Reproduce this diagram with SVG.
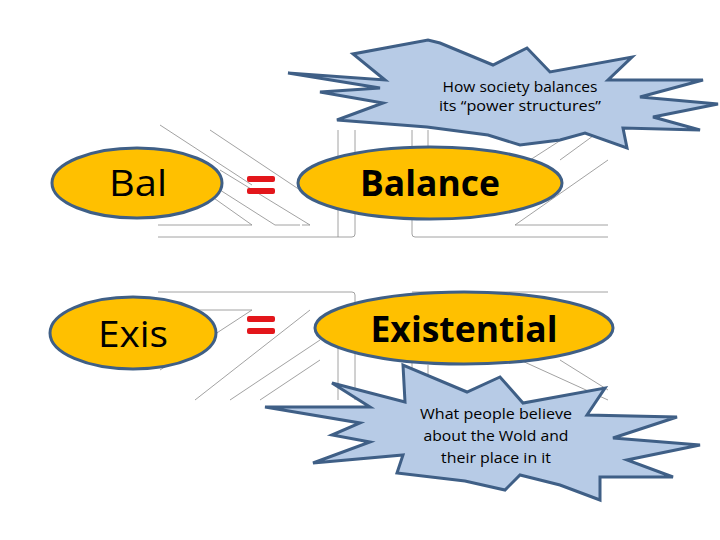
<svg xmlns="http://www.w3.org/2000/svg" width="720" height="540" viewBox="0 0 720 540">
<style>
.bg{stroke:#8a8a8a;stroke-width:0.8;fill:none}
.ell{fill:#ffc000;stroke:#3f5f86;stroke-width:3}
.big{font-family:"Open Sans","Liberation Sans",sans-serif;font-size:36px;fill:#000;text-anchor:middle}
.b{font-weight:bold}
.burst{fill:#b7cbe6;stroke:#3f5f86;stroke-width:3;stroke-linejoin:miter}
.small{font-family:"Open Sans","Liberation Sans",sans-serif;font-size:14px;fill:#000;text-anchor:middle}
.eq{fill:#e3161b}
</style>
<rect width="720" height="540" fill="#fff"/>
<g id="background" class="bg">
<path d="M158,237 H352 Q355,237 355,234 V130"/>
<path d="M338,130 V237"/>
<path d="M412,130 V234 Q412,237 415,237 H608"/>
<path d="M428,130 V215"/>
<path d="M158,225 H252 M252,225 L160,160 M160,125 L252,185 M210,130 L300,190 M275,225 L300,225 M275,225 L220,190 M302,225 L310,225 L220,170"/>
<path d="M515,225 H608 M515,225 L608,160 M560,160 L608,125 M530,160 L600,115"/>
<path d="M158,292 H352 Q355,292 355,295 V400"/>
<path d="M338,330 V400"/>
<path d="M412,292 H608 M428,365 V400 M412,360 V400"/>
<path d="M158,310 H252 M252,310 L160,370 M195,400 L310,310 M230,400 L320,340 M260,400 L320,360"/>
<path d="M520,360 L608,400 M560,360 L608,390"/>
</g>
<g id="bal">
<ellipse class="ell" cx="137" cy="183" rx="85" ry="35"/>
<text class="big" x="138" y="196" textLength="58" lengthAdjust="spacingAndGlyphs">Bal</text>
</g>
<g id="exis">
<ellipse class="ell" cx="133" cy="333" rx="83" ry="36"/>
<text class="big" x="133" y="347" textLength="70" lengthAdjust="spacingAndGlyphs">Exis</text>
</g>
<g id="eq1"><rect class="eq" x="247" y="176" width="28" height="6" rx="2"/><rect class="eq" x="247" y="188" width="28" height="6" rx="2"/></g>
<g id="eq2"><rect class="eq" x="247" y="316" width="28" height="6" rx="2"/><rect class="eq" x="247" y="328" width="28" height="6" rx="2"/></g>
<g id="balance">
<ellipse class="ell" cx="430" cy="183" rx="132" ry="36"/>
<text class="big b" x="430" y="196" textLength="140" lengthAdjust="spacingAndGlyphs">Balance</text>
</g>
<g id="existential">
<ellipse class="ell" cx="464" cy="328" rx="149" ry="36"/>
<text class="big b" x="464" y="342" textLength="187" lengthAdjust="spacingAndGlyphs">Existential</text>
</g>
<g id="burst-top">
<polygon class="burst" points="288,73 385,80 353,54 428,40 440,43 493,65 527,48 550,72 632,57 608,80 703,80 640,97 718,104 653,117 700,130 623,128 627,148 585,133 560,140 520,145 488,135 427,127 337,120 383,103 320,92 380,88"/>
<text class="small" x="520" y="92" textLength="155" lengthAdjust="spacingAndGlyphs">How society balances</text>
<text class="small" x="520" y="111" textLength="162" lengthAdjust="spacingAndGlyphs">its “power structures”</text>
</g>
<g id="burst-bottom">
<polygon class="burst" points="265,407 370,407 332,383 405,402 403,365 467,392 500,377 523,403 605,388 587,415 677,417 613,438 700,445 627,460 673,477 600,477 600,500 560,485 520,475 505,490 465,481 397,473 403,455 313,463 370,442 332,435 360,423"/>
<text class="small" x="496" y="419" textLength="152" lengthAdjust="spacingAndGlyphs">What people believe</text>
<text class="small" x="496" y="441" textLength="145" lengthAdjust="spacingAndGlyphs">about the Wold and</text>
<text class="small" x="496" y="463" textLength="110" lengthAdjust="spacingAndGlyphs">their place in it</text>
</g>
</svg>
